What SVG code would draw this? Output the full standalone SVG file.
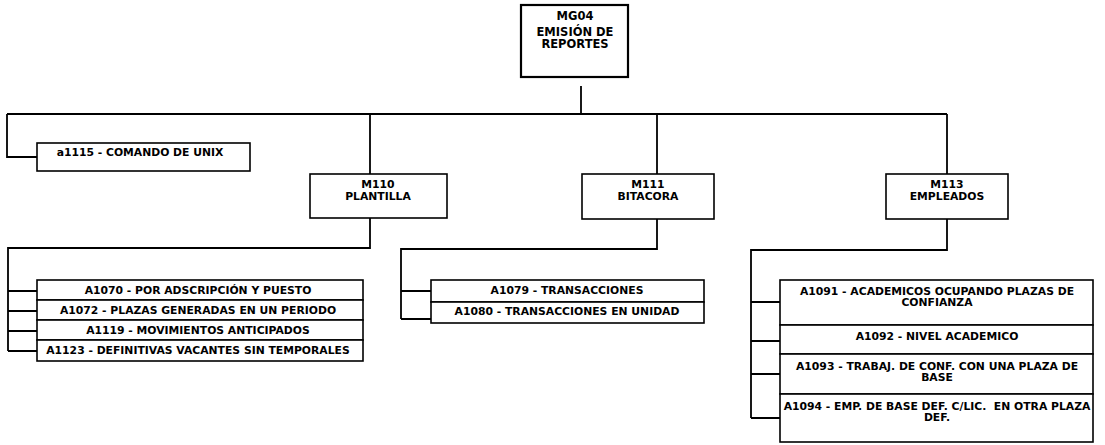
<svg xmlns="http://www.w3.org/2000/svg" width="1105" height="445" viewBox="0 0 1105 445">
<style>
.bx{fill:#fff;stroke:#000;stroke-width:1.6}
.t{font-family:"DejaVu Sans","Liberation Sans",sans-serif;font-weight:bold;font-size:10.8px;fill:#000;text-anchor:middle}
.c{fill:none;stroke:#000;stroke-width:1.8}
</style>
<rect width="1105" height="445" fill="#fff"/>
<g id="connectors">
<path class="c" d="M581,86 V114"/>
<path class="c" d="M7,114 H947"/>
<path class="c" d="M7,114 V157 H37"/>
<path class="c" d="M370,114 V174"/>
<path class="c" d="M657,114 V174"/>
<path class="c" d="M947,114 V174"/>
<path class="c" d="M370,218 V248 H8 V351"/>
<path class="c" d="M8,291 H37 M8,311 H37 M8,331 H37 M8,351 H37"/>
<path class="c" d="M657,219 V249 H401 V319"/>
<path class="c" d="M401,291 H431 M401,319 H431"/>
<path class="c" d="M947,219 V250 H751 V418"/>
<path class="c" d="M751,302 H780 M751,341 H780 M751,374 H780 M751,418 H780"/>
</g>
<g id="MG04">
<rect class="bx" x="521" y="5" width="107" height="72" style="stroke-width:2.2"/>
<text class="t" x="575" y="20" style="font-size:11.5px">MG04</text>
<text class="t" x="575" y="36" style="font-size:11.5px">EMISIÓN DE</text>
<text class="t" x="575" y="48" style="font-size:11.5px">REPORTES</text>
</g>
<g id="a1115">
<rect class="bx" x="37" y="143" width="213" height="28"/>
<text class="t" x="140" y="156">a1115 - COMANDO DE UNIX</text>
</g>
<g id="M110">
<rect class="bx" x="310" y="174" width="137" height="44"/>
<text class="t" x="378" y="188">M110</text>
<text class="t" x="378" y="200">PLANTILLA</text>
</g>
<g id="M111">
<rect class="bx" x="582" y="174" width="132" height="45"/>
<text class="t" x="648" y="188">M111</text>
<text class="t" x="648" y="200">BITACORA</text>
</g>
<g id="M113">
<rect class="bx" x="886" y="174" width="122" height="45"/>
<text class="t" x="947" y="188">M113</text>
<text class="t" x="947" y="200">EMPLEADOS</text>
</g>
<g id="A1070">
<rect class="bx" x="37" y="280" width="326" height="20"/>
<text class="t" x="198" y="294">A1070 - POR ADSCRIPCIÓN Y PUESTO</text>
</g>
<g id="A1072">
<rect class="bx" x="37" y="300" width="326" height="20"/>
<text class="t" x="198" y="314">A1072 - PLAZAS GENERADAS EN UN PERIODO</text>
</g>
<g id="A1119">
<rect class="bx" x="37" y="320" width="326" height="20"/>
<text class="t" x="198" y="334">A1119 - MOVIMIENTOS ANTICIPADOS</text>
</g>
<g id="A1123">
<rect class="bx" x="37" y="340" width="326" height="21"/>
<text class="t" x="198" y="354">A1123 - DEFINITIVAS VACANTES SIN TEMPORALES</text>
</g>
<g id="A1079">
<rect class="bx" x="431" y="280" width="273" height="22"/>
<text class="t" x="567" y="294">A1079 - TRANSACCIONES</text>
</g>
<g id="A1080">
<rect class="bx" x="431" y="302" width="273" height="21"/>
<text class="t" x="567" y="315">A1080 - TRANSACCIONES EN UNIDAD</text>
</g>
<g id="A1091">
<rect class="bx" x="780" y="280" width="313" height="45"/>
<text class="t" x="937" y="295">A1091 - ACADEMICOS OCUPANDO PLAZAS DE</text>
<text class="t" x="937" y="306">CONFIANZA</text>
</g>
<g id="A1092">
<rect class="bx" x="780" y="325" width="313" height="29"/>
<text class="t" x="937" y="340">A1092 - NIVEL ACADEMICO</text>
</g>
<g id="A1093">
<rect class="bx" x="780" y="354" width="313" height="40"/>
<text class="t" x="937" y="370">A1093 - TRABAJ. DE CONF. CON UNA PLAZA DE</text>
<text class="t" x="937" y="381">BASE</text>
</g>
<g id="A1094">
<rect class="bx" x="780" y="394" width="313" height="48"/>
<text class="t" x="937" y="410">A1094 - EMP. DE BASE DEF. C/LIC.&#160; EN OTRA PLAZA</text>
<text class="t" x="937" y="421">DEF.</text>
</g>
</svg>
